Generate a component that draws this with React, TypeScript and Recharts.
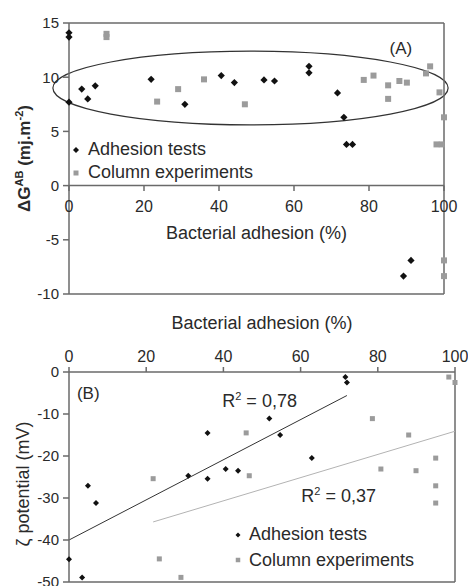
import React from 'react';
import {
  ScatterChart,
  Scatter,
  XAxis,
  YAxis,
  ReferenceLine,
  ReferenceArea,
  ReferenceDot,
  Legend,
} from 'recharts';

const xTicks = [0, 20, 40, 60, 80, 100];
const dgTicks = [-10, -5, 0, 5, 10, 15];
const zetaTicks = [-50, -40, -30, -20, -10, 0];

// (A) free energy vs adhesion
const adhesionDG = [
  { adhesion: 0, value: 14.1 },
  { adhesion: 0, value: 13.7 },
  { adhesion: 0, value: 7.7 },
  { adhesion: 3.4, value: 8.9 },
  { adhesion: 5, value: 8.0 },
  { adhesion: 7, value: 9.2 },
  { adhesion: 21.9, value: 9.8 },
  { adhesion: 30.9, value: 7.5 },
  { adhesion: 40.6, value: 10.15 },
  { adhesion: 44.1, value: 9.5 },
  { adhesion: 52, value: 9.75 },
  { adhesion: 54.8, value: 9.65 },
  { adhesion: 64, value: 11.0 },
  { adhesion: 64, value: 10.4 },
  { adhesion: 71.6, value: 8.55 },
  { adhesion: 73.3, value: 6.3 },
  { adhesion: 74, value: 3.8 },
  { adhesion: 75.6, value: 3.8 },
  { adhesion: 89.2, value: -8.35 },
  { adhesion: 91.2, value: -6.9 },
];

const columnDG = [
  { adhesion: 10, value: 14.0 },
  { adhesion: 10, value: 13.7 },
  { adhesion: 23.5, value: 7.75 },
  { adhesion: 29.1, value: 8.9 },
  { adhesion: 36, value: 9.8 },
  { adhesion: 46.9, value: 7.5 },
  { adhesion: 78.6, value: 9.75 },
  { adhesion: 81.2, value: 10.15 },
  { adhesion: 85.1, value: 9.25 },
  { adhesion: 85.1, value: 8.0 },
  { adhesion: 88.1, value: 9.65 },
  { adhesion: 90.1, value: 9.5 },
  { adhesion: 95.2, value: 10.35 },
  { adhesion: 96.3, value: 11.0 },
  { adhesion: 98.8, value: 8.6 },
  { adhesion: 100, value: 6.3 },
  { adhesion: 98, value: 3.8 },
  { adhesion: 99.4, value: 3.8 },
  { adhesion: 100, value: -6.9 },
  { adhesion: 100, value: -8.35 },
];

// (B) zeta potential vs adhesion
const adhesionZeta = [
  { adhesion: 0, value: -44.6 },
  { adhesion: 3.4, value: -48.9 },
  { adhesion: 4.9, value: -27.1 },
  { adhesion: 7, value: -31.2 },
  { adhesion: 30.9, value: -24.7 },
  { adhesion: 35.9, value: -14.5 },
  { adhesion: 35.9, value: -25.4 },
  { adhesion: 40.6, value: -23.1 },
  { adhesion: 43.8, value: -23.5 },
  { adhesion: 51.9, value: -11.1 },
  { adhesion: 54.7, value: -15.0 },
  { adhesion: 62.9, value: -20.5 },
  { adhesion: 71.6, value: -1.2 },
  { adhesion: 72, value: -2.5 },
];

const columnZeta = [
  { adhesion: 21.8, value: -25.4 },
  { adhesion: 23.4, value: -44.5 },
  { adhesion: 29, value: -48.9 },
  { adhesion: 45.9, value: -14.5 },
  { adhesion: 46.7, value: -24.7 },
  { adhesion: 78.6, value: -11.1 },
  { adhesion: 80.8, value: -23.1 },
  { adhesion: 88, value: -15.0 },
  { adhesion: 89.9, value: -23.5 },
  { adhesion: 95, value: -20.5 },
  { adhesion: 95, value: -27.1 },
  { adhesion: 95, value: -31.2 },
  { adhesion: 98.4, value: -1.2 },
  { adhesion: 100, value: -2.5 },
];

// linear fits drawn on (B)
const adhesionFit = [
  { x: 0, y: -40 },
  { x: 72, y: -5.6 },
];
const columnFit = [
  { x: 21.8, y: -35.7 },
  { x: 100, y: -14.1 },
];

// cluster outline on (A)
const cluster = { x1: -4.3, x2: 101.1, y1: 5.6, y2: 12.4 };

const axisColor = '#6a6a6a';
const textColor = '#2a2a2a';
const FONT = '"Liberation Sans", Arial, sans-serif';

const diamond = (r: number) => (p: any) => (
  <path
    d={`M${p.cx},${p.cy - r}L${p.cx + r},${p.cy}L${p.cx},${p.cy + r}L${p.cx - r},${p.cy}Z`}
    fill="#111"
  />
);
const square = (s: number) => (p: any) => (
  <rect x={p.cx - s / 2} y={p.cy - s / 2} width={s} height={s} fill="#9b9b9b" />
);

const Ellipse = (p: any) => (
  <ellipse
    cx={p.x + p.width / 2}
    cy={p.y + p.height / 2}
    rx={Math.abs(p.width) / 2}
    ry={Math.abs(p.height) / 2}
    fill="none"
    stroke="#333"
    strokeWidth={1.2}
  />
);

const legendContent = (rowH: number, gap: number, r: number, s: number) => (props: any) => (
  <div style={{ fontSize: 18, color: textColor, fontFamily: FONT }}>
    {(props.payload || []).map((p: any) => (
      <div key={p.value} style={{ display: 'flex', alignItems: 'center', height: rowH }}>
        <svg width={12} height={12}>
          {p.type === 'diamond' ? (
            <path d={`M6,${6 - r}L${6 + r},6L6,${6 + r}L${6 - r},6Z`} fill="#111" />
          ) : (
            <rect x={6 - s / 2} y={6 - s / 2} width={s} height={s} fill="#9b9b9b" />
          )}
        </svg>
        <span style={{ marginLeft: gap, whiteSpace: 'nowrap' }}>{p.value}</span>
      </div>
    ))}
  </div>
);

const DGLabel = (props: any) => {
  const vb = props.viewBox;
  const x = vb.x + 11;
  const y = vb.y + vb.height / 2;
  return (
    <text
      x={x}
      y={y}
      transform={`rotate(-90 ${x} ${y})`}
      textAnchor="middle"
      fill={textColor}
      fontSize={17}
      fontWeight="bold"
    >
      ΔG
      <tspan dy={-7} fontSize={11}>AB</tspan>
      <tspan dy={7}> (mj.m</tspan>
      <tspan dy={-7} fontSize={11}>-2</tspan>
      <tspan dy={7}>)</tspan>
    </text>
  );
};

const ZetaLabel = (props: any) => {
  const vb = props.viewBox;
  const x = vb.x + 10;
  const y = vb.y + vb.height / 2 + 7;
  return (
    <text
      x={x}
      y={y}
      transform={`rotate(-90 ${x} ${y})`}
      textAnchor="middle"
      fill={textColor}
      fontSize={18}
    >
      ζ potential (mV)
    </text>
  );
};

const r2Label = (text: string) => (props: any) => (
  <text x={props.viewBox.x} y={props.viewBox.y} fill={textColor} fontSize={18}>
    R<tspan dy={-7} fontSize={11}>2</tspan>
    <tspan dy={7}> = {text}</tspan>
  </text>
);

const lineProps = { stroke: axisColor, strokeWidth: 1.5 };

const App = () => {
  return (
    <div
      style={{
        position: 'absolute',
        left: 0,
        top: 0,
        width: 468,
        height: 586,
        background: '#fff',
        fontFamily: FONT,
      }}
    >
      <div style={{ position: 'absolute', left: 0, top: 0 }}>
        <ScatterChart width={468} height={312} margin={{ top: 23, right: 24, bottom: 18, left: 19 }}>
          <XAxis type="number" dataKey="adhesion" domain={[0, 100]} hide />
          <YAxis
            type="number"
            dataKey="value"
            domain={[-10, 15]}
            ticks={dgTicks}
            interval={0}
            width={50}
            axisLine={lineProps}
            tickLine={lineProps}
            tickSize={6}
            tickMargin={4}
            tick={{ fill: textColor, fontSize: 15 }}
            label={{ content: DGLabel }}
          />
          <ReferenceLine y={15} {...lineProps} />
          <ReferenceLine y={-10} {...lineProps} />
          <ReferenceLine x={100} {...lineProps} />
          <ReferenceLine
            segment={[
              { x: 0, y: 0 },
              { x: 100, y: 0 },
            ]}
            {...lineProps}
            label={{
              value: 'Bacterial adhesion (%)',
              position: 'bottom',
              offset: 41,
              fill: textColor,
              fontSize: 18,
            }}
          />
          {xTicks.map((t) => (
            <ReferenceLine
              key={t}
              segment={[
                { x: t, y: 0 },
                { x: t, y: -0.5 },
              ]}
              {...lineProps}
              label={{ value: String(t), position: 'bottom', offset: 10, fill: textColor, fontSize: 16 }}
            />
          ))}
          <ReferenceArea
            x1={cluster.x1}
            x2={cluster.x2}
            y1={cluster.y1}
            y2={cluster.y2}
            ifOverflow="visible"
            shape={Ellipse}
          />
          <ReferenceDot
            x={88.5}
            y={12.7}
            r={0}
            stroke="none"
            fill="none"
            label={{ value: '(A)', position: 'center', fill: textColor, fontSize: 17 }}
          />
          <Legend
            layout="vertical"
            align="center"
            verticalAlign="middle"
            wrapperStyle={{ left: 70, top: 138, width: 'auto' }}
            content={legendContent(23, 6, 3, 5)}
          />
          <Scatter
            name="Adhesion tests"
            data={adhesionDG}
            legendType="diamond"
            shape={diamond(3.6)}
            isAnimationActive={false}
          />
          <Scatter
            name="Column experiments"
            data={columnDG}
            legendType="square"
            shape={square(6)}
            isAnimationActive={false}
          />
        </ScatterChart>
      </div>

      <div style={{ position: 'absolute', left: 0, top: 300 }}>
        <ScatterChart width={468} height={286} margin={{ top: 42, right: 13, bottom: 4, left: 19 }}>
          <XAxis
            type="number"
            dataKey="adhesion"
            orientation="top"
            domain={[0, 100]}
            ticks={xTicks}
            interval={0}
            height={30}
            axisLine={lineProps}
            tickLine={lineProps}
            tickSize={5}
            tickMargin={5}
            tick={{ fill: textColor, fontSize: 16 }}
            label={{
              value: 'Bacterial adhesion (%)',
              position: 'top',
              offset: 13,
              fill: textColor,
              fontSize: 18,
            }}
          />
          <YAxis
            type="number"
            dataKey="value"
            domain={[-50, 0]}
            ticks={zetaTicks}
            interval={0}
            width={50}
            axisLine={lineProps}
            tickLine={lineProps}
            tickSize={6}
            tickMargin={4}
            tick={{ fill: textColor, fontSize: 15 }}
            label={{ content: ZetaLabel }}
          />
          <ReferenceLine x={100} {...lineProps} />
          <ReferenceLine y={-50} {...lineProps} />
          <ReferenceLine segment={adhesionFit} stroke="#333" strokeWidth={1} />
          <ReferenceLine segment={columnFit} stroke="#b3b3b3" strokeWidth={1} />
          <ReferenceDot
            x={5}
            y={-5.1}
            r={0}
            stroke="none"
            fill="none"
            label={{ value: '(B)', position: 'center', fill: textColor, fontSize: 17 }}
          />
          <ReferenceDot x={39.7} y={-8.35} r={0} stroke="none" fill="none" label={{ content: r2Label('0,78') }} />
          <ReferenceDot x={60.2} y={-30.9} r={0} stroke="none" fill="none" label={{ content: r2Label('0,37') }} />
          <Legend
            layout="vertical"
            align="center"
            verticalAlign="middle"
            wrapperStyle={{ left: 232, top: 222, width: 'auto' }}
            content={legendContent(25.5, 5, 2.5, 4.5)}
          />
          <Scatter
            name="Adhesion tests"
            data={adhesionZeta}
            legendType="diamond"
            shape={diamond(3)}
            isAnimationActive={false}
          />
          <Scatter
            name="Column experiments"
            data={columnZeta}
            legendType="square"
            shape={square(5)}
            isAnimationActive={false}
          />
        </ScatterChart>
      </div>
    </div>
  );
};

export default App;
